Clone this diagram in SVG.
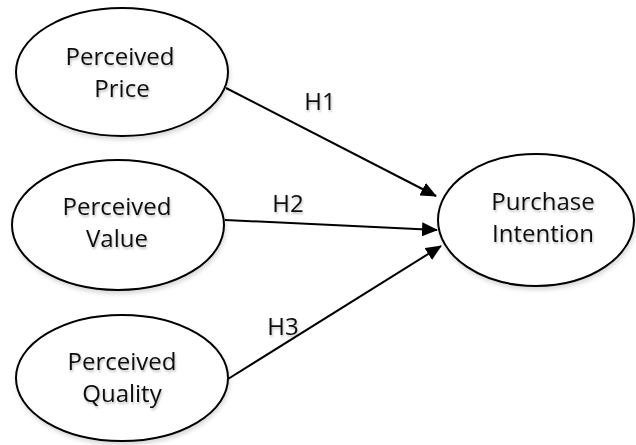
<svg xmlns="http://www.w3.org/2000/svg" width="636" height="445" viewBox="0 0 636 445">
<style>
.node ellipse{fill:#fff;stroke:#000;stroke-width:2;filter:url(#sh)}
text{font-family:"Open Sans","Liberation Sans",sans-serif;font-size:24px;fill:#111;text-anchor:middle;filter:url(#tsh)}
.edge{stroke:#000;stroke-width:2;fill:none;marker-end:url(#arr)}
</style>
<defs>
<filter id="sh" x="-10%" y="-10%" width="125%" height="130%"><feDropShadow dx="1" dy="3" stdDeviation="2" flood-color="#000" flood-opacity="0.15"/></filter>
<filter id="tsh" x="-10%" y="-20%" width="130%" height="160%"><feDropShadow dx="1" dy="2" stdDeviation="1.2" flood-color="#000" flood-opacity="0.25"/></filter>
<marker id="arr" viewBox="0 0 16 14" refX="15" refY="7" markerWidth="16" markerHeight="14" markerUnits="userSpaceOnUse" orient="auto"><path d="M0,0 L16,7 L0,14 z" fill="#000"/></marker>
</defs>
<rect width="636" height="445" fill="#fff"/>
<g id="price" class="node"><ellipse cx="122" cy="72" rx="106" ry="64"/><text x="120" y="65">Perceived</text><text x="122" y="97">Price</text></g>
<g id="value" class="node"><ellipse cx="118" cy="225" rx="106" ry="65"/><text x="117" y="215">Perceived</text><text x="117" y="247">Value</text></g>
<g id="quality" class="node"><ellipse cx="122" cy="378" rx="106" ry="63"/><text x="122" y="370">Perceived</text><text x="122" y="402">Quality</text></g>
<g id="intention" class="node"><ellipse cx="536" cy="220" rx="98" ry="66"/><text x="543" y="210">Purchase</text><text x="543" y="242">Intention</text></g>
<g id="connectors">
<line class="edge" x1="226" y1="88" x2="436" y2="196"/>
<line class="edge" x1="225" y1="220" x2="437" y2="230"/>
<line class="edge" x1="228" y1="379" x2="441" y2="246"/>
<text x="320" y="110">H1</text>
<text x="288" y="212">H2</text>
<text x="283" y="335">H3</text>
</g>
</svg>
